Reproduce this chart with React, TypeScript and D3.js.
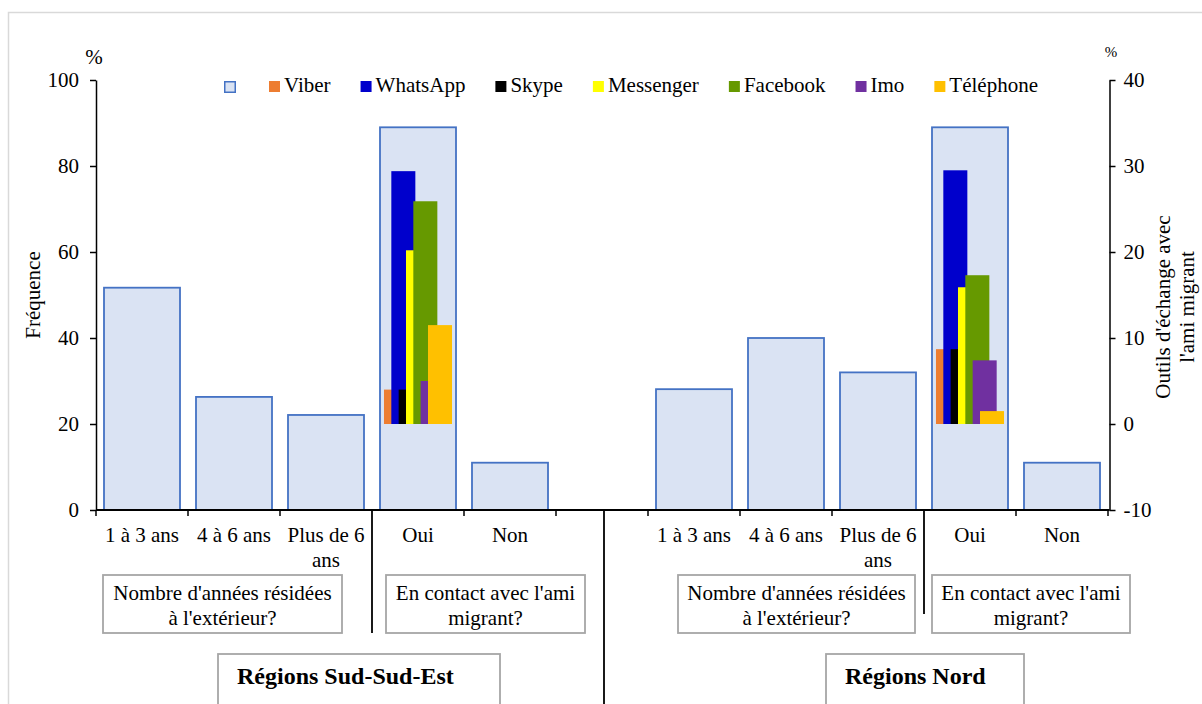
import React, { useEffect, useRef } from "react";
import * as d3 from "d3";

// Category labels shared by both regions
const categoryLabels = ["1 à 3 ans", "4 à 6 ans", "Plus de 6 ans", "Oui", "Non"];
const regionTitles = ["Régions Sud-Sud-Est", "Régions Nord"];
const questionLines = [
  ["Nombre d'années résidées", "à l'extérieur?"],
  ["En contact avec l'ami", "migrant?"],
];

// Fréquence (%) per category, left axis
const frequencySudSudEst = [51.7, 26.3, 22.1, 89, 11];
const frequencyNord = [28.1, 40, 32, 89, 11];

// Exchange tools with the migrant friend (%), right axis, shown inside the "Oui" bar
const toolNames = ["Viber", "WhatsApp", "Skype", "Messenger", "Facebook", "Imo", "Téléphone"];
const toolsSudSudEst = [4, 29.4, 4, 20.2, 25.9, 5, 11.5];
const toolsNord = [8.7, 29.5, 8.7, 15.9, 17.3, 7.4, 1.5];

const leftTicks = [0, 20, 40, 60, 80, 100];
const rightTicks = [-10, 0, 10, 20, 30, 40];

const toolColors = ["#ED7D31", "#0000CC", "#000000", "#FFFF00", "#669900", "#7030A0", "#FFC000"];
const FONT = "'Liberation Serif', 'Times New Roman', serif";
const FS = 21;
const BAR_FILL = "#DAE3F3";
const BAR_STROKE = "#4472C4";

export default function App() {
  const ref = useRef<SVGSVGElement | null>(null);

  useEffect(() => {
    const svg = d3.select(ref.current);
    svg.selectAll("*").remove();

    const left = 96;
    const right = 1108;
    const top = 80;
    const bottom = 510;
    const rightAxisX = 1109.5;

    const regionKeys = ["S", "N"];
    const slotKeys = [
      ...categoryLabels.map((_, i) => `S-${i}`),
      "gap",
      ...categoryLabels.map((_, i) => `N-${i}`),
    ];

    const x = d3
      .scaleBand<string>()
      .domain(slotKeys)
      .range([left, right])
      .paddingInner(16 / 92)
      .paddingOuter(8 / 92);
    const step = x.step();
    const bw = x.bandwidth();
    const yL = d3.scaleLinear().domain([0, 100]).range([bottom, top]);
    const yR = d3.scaleLinear().domain([-10, 40]).range([bottom, top]);

    // outer frame
    svg
      .append("rect")
      .attr("x", 8.5)
      .attr("y", 12.5)
      .attr("width", 1230)
      .attr("height", 720)
      .attr("fill", "#fff")
      .attr("stroke", "#D9D9D9")
      .attr("stroke-width", 1.5);

    const freqByRegion = [frequencySudSudEst, frequencyNord];
    const toolsByRegion = [toolsSudSudEst, toolsNord];

    // main frequency bars
    regionKeys.forEach((rk, r) => {
      svg
        .append("g")
        .selectAll("rect")
        .data(freqByRegion[r])
        .join("rect")
        .attr("x", (_, i) => x(`${rk}-${i}`)!)
        .attr("y", (d) => yL(d))
        .attr("width", bw)
        .attr("height", (d) => yL(0) - yL(d))
        .attr("fill", BAR_FILL)
        .attr("stroke", BAR_STROKE)
        .attr("stroke-width", 1.8);
    });

    // tool bars, overlapping clusters inside the "Oui" bar
    const ouiIndex = categoryLabels.indexOf("Oui");
    regionKeys.forEach((rk, r) => {
      const bx = x(`${rk}-${ouiIndex}`)!;
      const center = bx + bw / 2;
      const toolW = bw * 0.316;
      const groupW = bw * 0.895;
      const xp = d3
        .scalePoint<string>()
        .domain(toolNames)
        .range([center - groupW / 2, center + groupW / 2 - toolW]);
      svg
        .append("g")
        .selectAll("rect")
        .data(toolsByRegion[r])
        .join("rect")
        .attr("x", (_, i) => xp(toolNames[i])!)
        .attr("y", (d) => yR(d))
        .attr("width", toolW)
        .attr("height", (d) => yR(0) - yR(d))
        .attr("fill", (_, i) => toolColors[i]);
    });

    const fmt = (d: d3.NumberValue) => String(d);

    // left axis
    const gL = svg
      .append("g")
      .attr("transform", `translate(${left},0)`)
      .call(
        d3.axisLeft(yL).tickValues(leftTicks).tickFormat(fmt).tickSize(6).tickSizeOuter(0).tickPadding(11)
      );
    gL.attr("font-family", FONT).attr("font-size", FS);
    gL.selectAll("path, line").attr("stroke", "#000").attr("stroke-width", 1.5);
    gL.selectAll("text").attr("fill", "#000");

    // right axis
    const gR = svg
      .append("g")
      .attr("transform", `translate(${rightAxisX},0)`)
      .call(
        d3.axisRight(yR).tickValues(rightTicks).tickFormat(fmt).tickSize(6).tickSizeOuter(0).tickPadding(8)
      );
    gR.attr("font-family", FONT).attr("font-size", FS);
    gR.selectAll("path, line").attr("stroke", "#000").attr("stroke-width", 1.5);
    gR.selectAll("text").attr("fill", "#000");

    // x axis baseline
    svg
      .append("line")
      .attr("x1", left)
      .attr("x2", rightAxisX)
      .attr("y1", bottom)
      .attr("y2", bottom)
      .attr("stroke", "#000")
      .attr("stroke-width", 1.8);

    // slot boundary ticks and group dividers
    const boundaries = d3.range(slotKeys.length + 1).map((i) => left + i * step);
    const dividerEnds: Record<number, number> = { 3: 633, 9: 614 };
    boundaries.forEach((bx, i) => {
      svg
        .append("line")
        .attr("x1", bx)
        .attr("x2", bx)
        .attr("y1", bottom)
        .attr("y2", dividerEnds[i] ?? bottom + 6)
        .attr("stroke", "#000")
        .attr("stroke-width", dividerEnds[i] ? 1.8 : 1.5);
    });
    const regionDividerX = x("gap")! + bw / 2 + 2;
    svg
      .append("line")
      .attr("x1", regionDividerX)
      .attr("x2", regionDividerX)
      .attr("y1", bottom)
      .attr("y2", 704)
      .attr("stroke", "#000")
      .attr("stroke-width", 1.8);

    // category labels with word wrapping
    const labelG = svg.append("g").attr("font-family", FONT).attr("font-size", FS).attr("fill", "#000");
    regionKeys.forEach((rk) => {
      categoryLabels.forEach((label, i) => {
        const cx = x(`${rk}-${i}`)! + bw / 2;
        const t = labelG.append("text").attr("x", cx).attr("y", 542).attr("text-anchor", "middle");
        const words = label.split(" ");
        let line: string[] = [];
        let lineNo = 0;
        let tspan = t.append("tspan").attr("x", cx).attr("y", 542);
        words.forEach((w) => {
          line.push(w);
          tspan.text(line.join(" "));
          if ((tspan.node() as SVGTSpanElement).getComputedTextLength() > step - 2 && line.length > 1) {
            line.pop();
            tspan.text(line.join(" "));
            line = [w];
            lineNo += 1;
            tspan = t.append("tspan").attr("x", cx).attr("y", 542 + lineNo * 25).text(w);
          }
        });
      });
    });

    // question boxes
    const questionBoxes = [
      { x0: 103, x1: 342, q: 0 },
      { x0: 386, x1: 585, q: 1 },
      { x0: 678, x1: 915, q: 0 },
      { x0: 932, x1: 1130, q: 1 },
    ];
    questionBoxes.forEach((b) => {
      svg
        .append("rect")
        .attr("x", b.x0)
        .attr("y", 575)
        .attr("width", b.x1 - b.x0)
        .attr("height", 58)
        .attr("fill", "#fff")
        .attr("stroke", "#A6A6A6")
        .attr("stroke-width", 1.8);
      questionLines[b.q].forEach((ln, k) => {
        svg
          .append("text")
          .attr("x", (b.x0 + b.x1) / 2)
          .attr("y", 600 + k * 25)
          .attr("text-anchor", "middle")
          .attr("font-family", FONT)
          .attr("font-size", FS)
          .text(ln);
      });
    });

    // region title boxes
    const titleBoxes = [
      { x0: 218, x1: 500 },
      { x0: 826, x1: 1024 },
    ];
    titleBoxes.forEach((b, r) => {
      svg
        .append("rect")
        .attr("x", b.x0)
        .attr("y", 654)
        .attr("width", b.x1 - b.x0)
        .attr("height", 80)
        .attr("fill", "#fff")
        .attr("stroke", "#A6A6A6")
        .attr("stroke-width", 1.8);
      svg
        .append("text")
        .attr("x", b.x0 + 19)
        .attr("y", 684)
        .attr("font-family", FONT)
        .attr("font-size", 24)
        .attr("font-weight", "bold")
        .text(regionTitles[r]);
    });

    // axis titles
    svg
      .append("text")
      .attr("x", 94)
      .attr("y", 64)
      .attr("text-anchor", "middle")
      .attr("font-family", FONT)
      .attr("font-size", FS)
      .text("%");
    svg
      .append("text")
      .attr("x", 1111)
      .attr("y", 57)
      .attr("text-anchor", "middle")
      .attr("font-family", FONT)
      .attr("font-size", 15)
      .text("%");
    svg
      .append("text")
      .attr("transform", `translate(33,${(top + bottom) / 2}) rotate(-90)`)
      .attr("text-anchor", "middle")
      .attr("dominant-baseline", "central")
      .attr("font-family", FONT)
      .attr("font-size", FS)
      .text("Fréquence");
    ["Outils d'échange avec", "l'ami migrant"].forEach((ln, k) => {
      svg
        .append("text")
        .attr("transform", `translate(${1163 + k * 24},307) rotate(-90)`)
        .attr("text-anchor", "middle")
        .attr("dominant-baseline", "central")
        .attr("font-family", FONT)
        .attr("font-size", FS)
        .text(ln);
    });

    // legend
    const legendItems = [{ name: "", fill: BAR_FILL, stroke: BAR_STROKE }].concat(
      toolNames.map((n, i) => ({ name: n, fill: toolColors[i], stroke: "none" }))
    );
    let lx = 224;
    const legendG = svg.append("g").attr("font-family", FONT).attr("font-size", FS);
    legendItems.forEach((it) => {
      legendG
        .append("rect")
        .attr("x", lx + (it.stroke !== "none" ? 0.75 : 0))
        .attr("y", 81 + (it.stroke !== "none" ? 0.75 : 0))
        .attr("width", it.stroke !== "none" ? 10.5 : 11)
        .attr("height", it.stroke !== "none" ? 10.5 : 11)
        .attr("fill", it.fill)
        .attr("stroke", it.stroke)
        .attr("stroke-width", 1.5);
      let end = lx + 15;
      if (it.name) {
        const t = legendG.append("text").attr("x", lx + 15).attr("y", 92).text(it.name);
        end = lx + 15 + (t.node() as SVGTextElement).getComputedTextLength();
      }
      lx = end + 30;
    });
  }, []);

  return (
    <svg
      ref={ref}
      width={1202}
      height={704}
      style={{ position: "absolute", left: 0, top: 0, background: "#fff" }}
    />
  );
}
